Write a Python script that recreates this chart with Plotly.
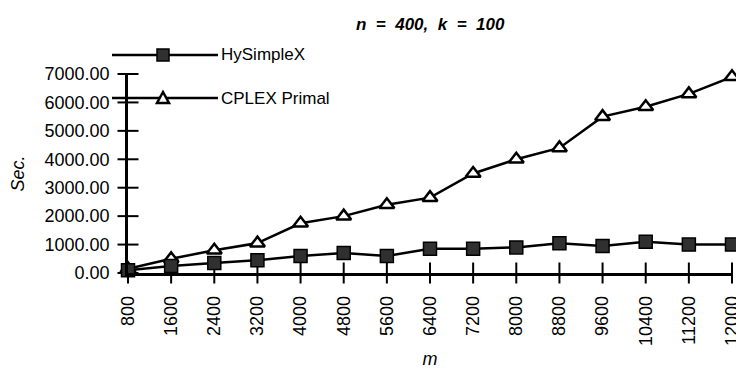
import plotly.graph_objects as go

m_values = [800, 1600, 2400, 3200, 4000, 4800, 5600, 6400, 7200, 8000,
            8800, 9600, 10400, 11200, 12000]
hysimplex = [100, 250, 350, 450, 600, 700, 600, 850, 850, 900,
             1050, 950, 1100, 1000, 1000]
cplex_primal = [150, 500, 800, 1050, 1750, 2000, 2400, 2650, 3500, 4000,
                4400, 5500, 5850, 6300, 6900]
y_ticks = [0, 1000, 2000, 3000, 4000, 5000, 6000, 7000]
y_tick_text = ["%.2f" % v for v in y_ticks]
series_names = ["HySimpleX", "CPLEX Primal"]

# page body has an 8px margin: figure is drawn 8px right/down of the window corner
OFF = 8
W, H = 744 - OFF, 369 - OFF
L, R, T, B = 128 - OFF, 12, 74 - OFF, 104 - OFF
pw, ph = W - L - R, H - T - B
FONT = "Liberation Sans, Arial, sans-serif"

fig = go.Figure()
# crossing tick marks on both axes, placed through the axes' own scales
fig.add_trace(go.Scatter(
    x=m_values, y=[y_ticks[0]] * len(m_values), mode="markers", hoverinfo="skip",
    marker=dict(symbol="line-ns", size=15, color="black", line=dict(color="black", width=2)),
    cliponaxis=False, showlegend=False))
fig.add_trace(go.Scatter(
    x=[m_values[0]] * len(y_ticks), y=y_ticks, mode="markers", hoverinfo="skip",
    marker=dict(symbol="line-ew", size=15, color="black", line=dict(color="black", width=2)),
    cliponaxis=False, showlegend=False))
fig.add_trace(go.Scatter(
    x=m_values, y=cplex_primal, name=series_names[1], mode="lines+markers",
    line=dict(color="black", width=2.5),
    marker=dict(symbol="triangle-up", size=13, color="white",
                line=dict(color="black", width=2.5)),
    cliponaxis=False, showlegend=False))
fig.add_trace(go.Scatter(
    x=m_values, y=hysimplex, name=series_names[0], mode="lines+markers",
    line=dict(color="black", width=2.5),
    marker=dict(symbol="square", size=13, color="#303030",
                line=dict(color="black", width=1.5)),
    cliponaxis=False, showlegend=False))


def px2x(px):
    return (px - OFF - L) / pw


def py2y(py):
    return (H - B - (py - OFF)) / ph


shapes = []
annotations = []
rows = [(55, "sq", series_names[0]), (98, "tri", series_names[1])]
for py, kind, label in rows:
    shapes.append(dict(type="line", xref="paper", yref="paper",
                       x0=px2x(112), x1=px2x(218), y0=py2y(py), y1=py2y(py),
                       line=dict(color="black", width=2.5)))
    if kind == "sq":
        shapes.append(dict(type="rect", xref="paper", yref="paper",
                           x0=px2x(157), x1=px2x(169), y0=py2y(py - 6), y1=py2y(py + 6),
                           fillcolor="#303030", line=dict(color="black", width=1.5)))
    else:
        path = "M %f %f L %f %f L %f %f Z" % (
            px2x(157), py2y(py + 5), px2x(169), py2y(py + 5), px2x(163), py2y(py - 6))
        shapes.append(dict(type="path", xref="paper", yref="paper", path=path,
                           fillcolor="white", line=dict(color="black", width=2.5)))
    annotations.append(dict(text=label, xref="paper", yref="paper",
                            x=px2x(219), y=py2y(py), xanchor="left", yanchor="middle",
                            showarrow=False, font=dict(size=17, color="black", family=FONT)))

annotations.append(dict(text="<b><i>n  =  400,  k  =  100</i></b>", xref="paper", yref="paper",
                        x=px2x(430), y=py2y(25), xanchor="center", yanchor="middle",
                        showarrow=False, font=dict(size=17, color="black", family=FONT)))

fig.update_layout(
    width=W, height=H,
    margin=dict(l=L, r=R, t=T, b=B, autoexpand=False),
    paper_bgcolor="white", plot_bgcolor="white",
    font=dict(family=FONT, color="black", size=18),
    shapes=shapes, annotations=annotations,
    xaxis=dict(range=[800, 12000], tickvals=m_values, ticktext=[str(v) for v in m_values],
               tickangle=-90, ticks="",
               showline=True, linecolor="black", linewidth=2.5,
               showgrid=False, zeroline=False, ticklabeloverflow="allow",
               tickfont=dict(size=18), ticklabelstandoff=13,
               title=dict(text="<i>m</i>", font=dict(size=18), standoff=17)),
    yaxis=dict(range=[0, 7000], tickvals=y_ticks, ticktext=y_tick_text,
               ticks="",
               showline=True, linecolor="black", linewidth=2.5,
               showgrid=False, zeroline=False,
               tickfont=dict(size=18), ticklabelstandoff=12,
               title=dict(text="<i>Sec.</i>", font=dict(size=18), standoff=24)),
)

fig.write_html("out.html")
